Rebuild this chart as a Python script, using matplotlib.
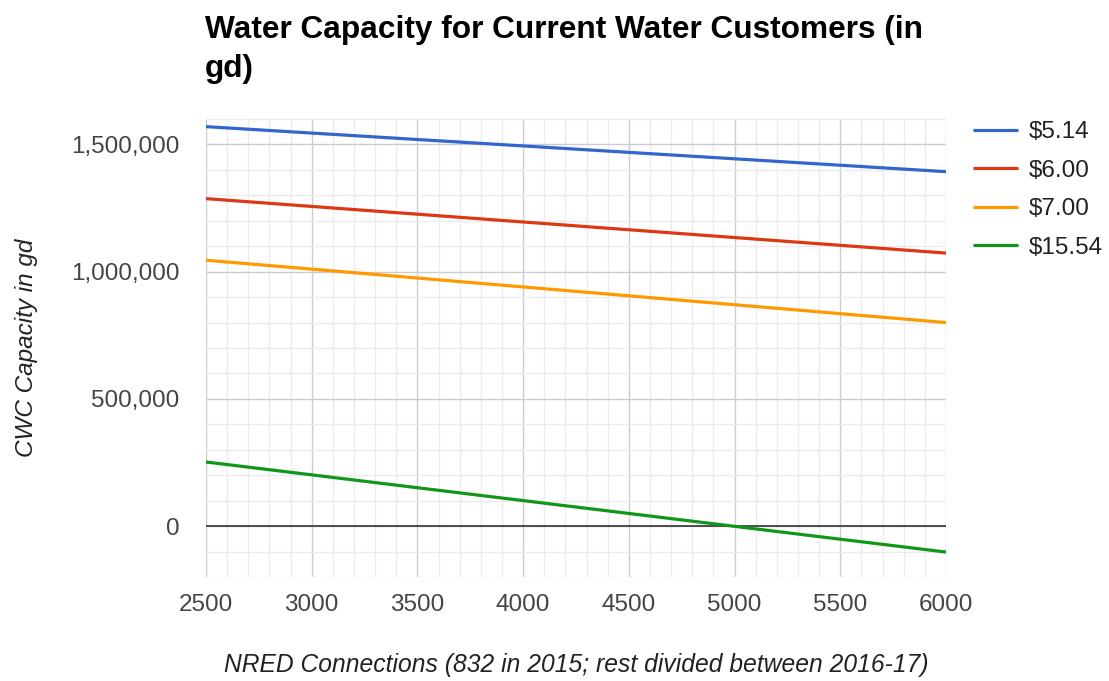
import matplotlib
matplotlib.use("Agg")
import matplotlib.pyplot as plt
from matplotlib.ticker import FuncFormatter, MultipleLocator

plt.rcParams['font.family'] = ['Liberation Sans', 'DejaVu Sans']

# NRED connections (x) and CWC capacity in gallons per day for each rate
connections = [2500, 6000]
series_labels = ["$5.14", "$6.00", "$7.00", "$15.54"]
cap_514 = [1570000, 1393000]
cap_600 = [1287000, 1073000]
cap_700 = [1045000, 800000]
cap_1554 = [252000, -102000]
series_values = [cap_514, cap_600, cap_700, cap_1554]
colors = ["#3366cc", "#dc3912", "#ff9900", "#109618"]

x_ticks = [2500, 3000, 3500, 4000, 4500, 5000, 5500, 6000]
y_ticks = [0, 500000, 1000000, 1500000]

W, H = 1109, 681
fig = plt.figure(figsize=(W / 100, H / 100), dpi=100)
ax = fig.add_axes([206 / W, 1 - 577 / H, (946 - 206) / W, (577 - 119) / H])

ax.set_xlim(2500, 6000)
ax.set_ylim(-200000, 1600000)

# grid: light minor lines, darker major lines
ax.xaxis.set_minor_locator(MultipleLocator(100))
ax.yaxis.set_minor_locator(MultipleLocator(100000))
ax.set_xticks(x_ticks)
ax.set_yticks(y_ticks)
ax.grid(which='minor', color='#ebebeb', linewidth=1.0)
ax.grid(which='major', color='#cccccc', linewidth=1.0)
ax.set_axisbelow(True)
ax.axhline(0, color='#333333', linewidth=1.2, zorder=1.5)

for vals, lab, col in zip(series_values, series_labels, colors):
    ax.plot(connections, vals, color=col, linewidth=2.3, label=lab,
            solid_capstyle='butt', zorder=3)

for s in ax.spines.values():
    s.set_visible(False)

ax.yaxis.set_major_formatter(FuncFormatter(lambda v, p: f"{int(v):,}"))
ax.tick_params(which='both', length=0)
ax.tick_params(axis='y', labelsize=17.5, labelcolor='#444444', pad=19)
ax.tick_params(axis='x', labelsize=17.5, labelcolor='#444444', pad=12)

ax.set_ylabel("CWC Capacity in gd", fontsize=17.5, style='italic',
              color='#222222', labelpad=24)
ax.set_xlabel("NRED Connections (832 in 2015; rest divided between 2016-17)",
              fontsize=17.7, style='italic', color='#222222', labelpad=27)

fig.text(205 / W, 1 - 77 / H,
         "Water Capacity for Current Water Customers (in\ngd)",
         fontsize=22.8, fontweight='bold', color='#000000',
         ha='left', va='baseline', linespacing=1.38)

ax.legend(loc='upper left', bbox_to_anchor=(973 / W, 1 - 121 / H),
          bbox_transform=fig.transFigure, frameon=False, fontsize=17.5,
          handlelength=1.85, handletextpad=0.45, labelspacing=0.68,
          borderpad=0, borderaxespad=0, labelcolor='#222222')

fig.savefig("out.png", dpi=100)
